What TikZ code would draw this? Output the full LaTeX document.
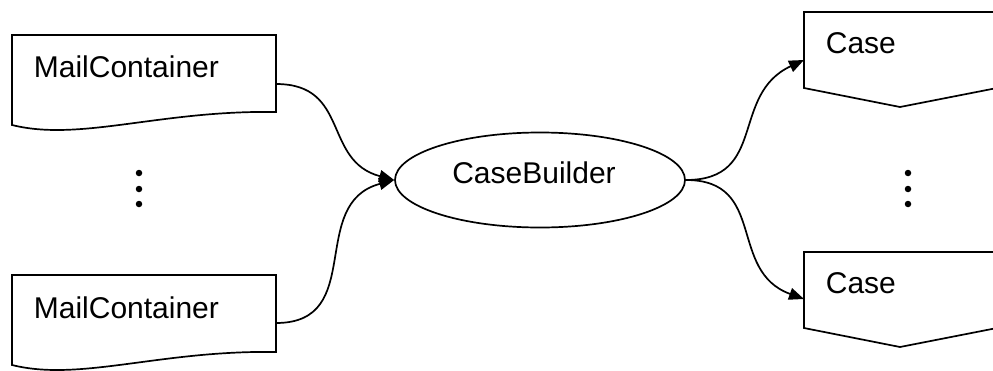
\documentclass[tikz,border=0pt]{standalone}
\usepackage{fontspec}
\setmainfont{Liberation Sans}
\usetikzlibrary{arrows.meta,shapes.geometric}
\begin{document}
\begin{tikzpicture}[x=1pt,y=1pt,line width=1.7pt,
  lbl/.style={font=\fontsize{30}{33}\selectfont,anchor=base west,inner sep=0pt},
  conn/.style={-{Triangle[length=15pt,width=12pt]}},
  dotm/.style={circle,fill=black,draw=none,inner sep=0pt,minimum size=6.5pt},
  shp/.style={draw=black,fill=white,line join=miter}]
\useasboundingbox (0,0) rectangle (993,-370);
% MailContainer documents
\draw[shp] (12,-35) -- (276,-35) -- (276,-112) .. controls (160,-110) and (80,-142) .. (12,-125) -- cycle;
\node[lbl] (mc1) at (33,-77) {MailContainer};
\coordinate (mc1out) at (276,-84);
\draw[shp] (12,-275) -- (276,-275) -- (276,-352) .. controls (160,-350) and (80,-382) .. (12,-365) -- cycle;
\node[lbl] (mc2) at (33,-318) {MailContainer};
\coordinate (mc2out) at (276,-323);
% CaseBuilder
\node[ellipse,draw=black,minimum width=290pt,minimum height=95pt,inner sep=0pt] (cb) at (540,-180) {};
\node[font=\fontsize{30}{33}\selectfont,anchor=base,inner sep=0pt] (cbt) at (534,-183) {CaseBuilder};
% Case off-page shapes
\draw[shp] (804,-12) -- (997,-12) -- (997,-88) -- (900,-107) -- (804,-88) -- cycle;
\node[lbl] (c1) at (825,-53) {Case};
\coordinate (c1in) at (804,-60);
\draw[shp] (804,-252) -- (997,-252) -- (997,-328) -- (900,-347) -- (804,-328) -- cycle;
\node[lbl] (c2) at (825,-293) {Case};
\coordinate (c2in) at (804,-299);
% dots
\node[dotm] (d1) at (139,-173) {};
\node[dotm] (d2) at (139,-189) {};
\node[dotm] (d3) at (139,-204) {};
\node[dotm] (d4) at (908,-173) {};
\node[dotm] (d5) at (908,-189) {};
\node[dotm] (d6) at (908,-204) {};
% connectors
\draw[conn] (mc1out) to[out=0,in=165,looseness=1.25] (cb.west);
\draw[conn] (mc2out) to[out=0,in=195,looseness=1.25] (cb.west);
\draw[conn] (cb.east) to[out=0,in=205,looseness=1.25] (c1in);
\draw[conn] (cb.east) to[out=0,in=160,looseness=1.25] (c2in);
\end{tikzpicture}
\end{document}
